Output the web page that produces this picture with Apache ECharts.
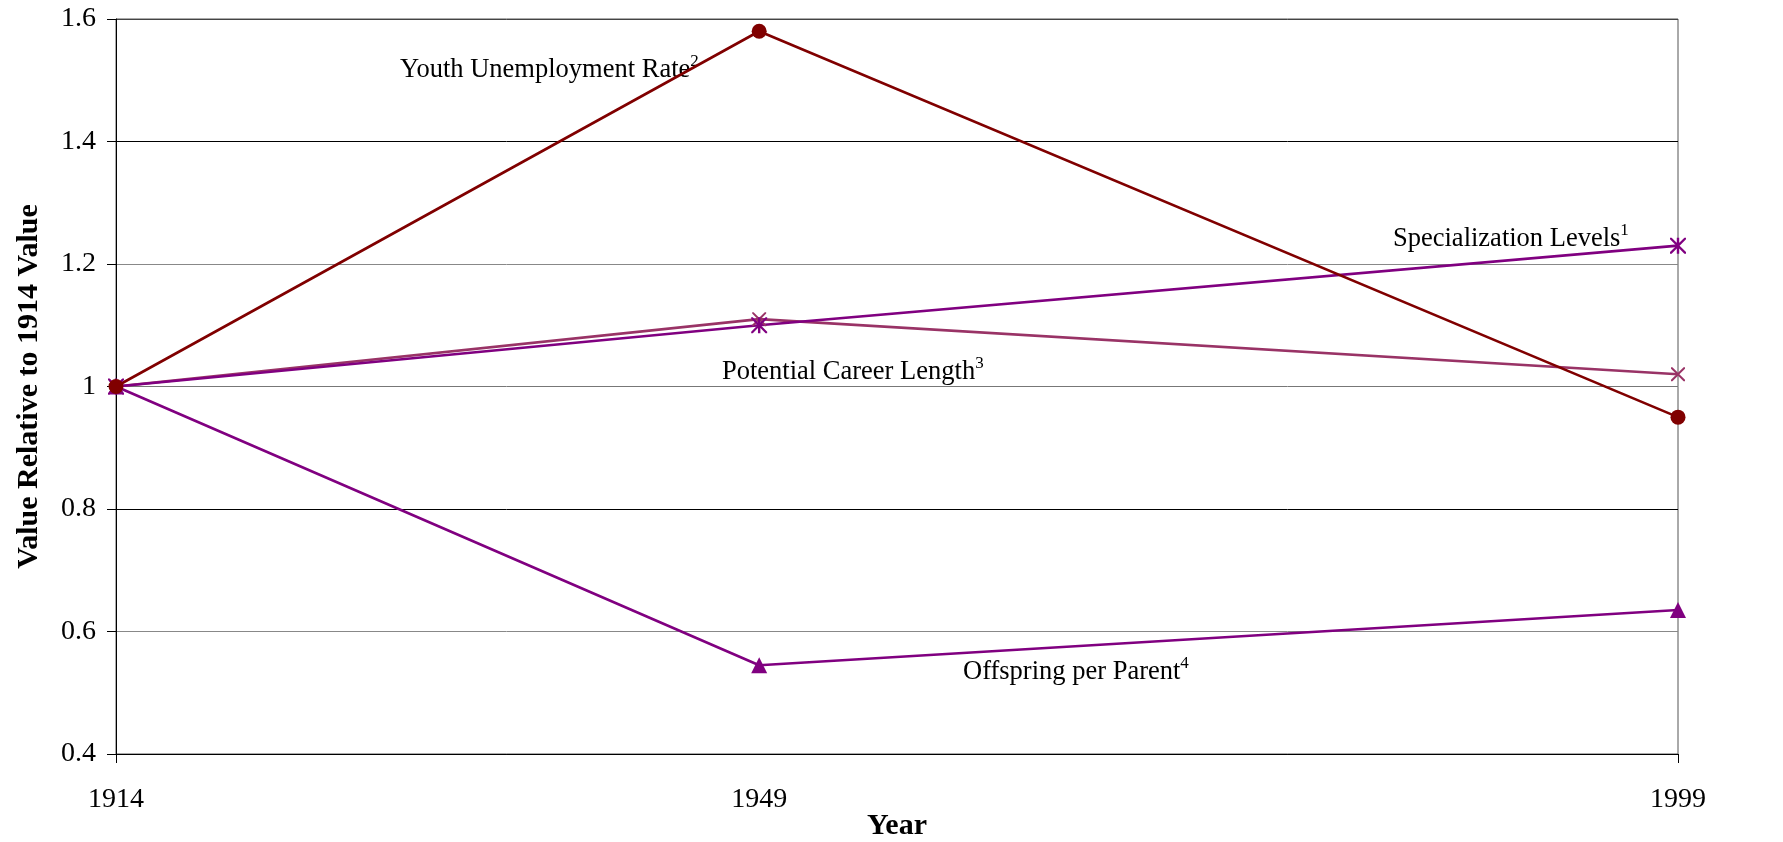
<!DOCTYPE html>
<html>
<head>
<meta charset="utf-8">
<script src="https://cdn.jsdelivr.net/npm/echarts@6/dist/echarts.min.js"></script>
<style>
  html, body { margin: 0; padding: 0; background: #fff; }
  #chart { width: 1783px; height: 842px; }
</style>
</head>
<body>
<div id="chart"></div>
<script>
// values relative to 1914
const years = [1914, 1949, 1999];
const youthUnemployment = [1.0, 1.58, 0.95];
const specializationLevels = [1.0, 1.10, 1.23];
const careerLength = [1.0, 1.11, 1.02];
const offspringPerParent = [1.0, 0.545, 0.635];

const FONT = "'Liberation Serif', 'Times New Roman', serif";

// thin-stroke marker shapes drawn as filled paths
const CROSS = 'path://M0,0 L2,0 L10,8 L18,0 L20,0 L20,2 L12,10 L20,18 L20,20 L18,20 L10,12 L2,20 L0,20 L0,18 L8,10 L0,2 Z';
const STAR = CROSS + ' M8.5,0 L11.5,0 L11.5,20 L8.5,20 Z';

function pairs(vals) {
  return years.map((y, i) => [y, vals[i]]);
}

function line(name, vals, color, symbol, size) {
  return {
    name: name,
    type: 'line',
    data: pairs(vals),
    symbol: symbol,
    symbolSize: size,
    lineStyle: { color: color, width: 2.6 },
    itemStyle: { color: color },
    emphasis: { disabled: true },
    z: 3
  };
}

function note(text, sup, x, y) {
  return {
    type: 'text',
    x: x,
    y: y,
    style: {
      text: '{a|' + text + '}{s|' + sup + '}',
      align: 'left',
      verticalAlign: 'middle',
      rich: {
        a: { fontFamily: FONT, fontSize: 26.5, lineHeight: 34, color: '#000' },
        s: { fontFamily: FONT, fontSize: 17, lineHeight: 17, color: '#000', verticalAlign: 'top' }
      }
    }
  };
}

const chart = echarts.init(document.getElementById('chart'));

chart.setOption({
  backgroundColor: '#fff',
  animation: false,
  grid: {
    left: 116, right: 105, top: 19, bottom: 88,
    outerBoundsMode: 'none',
    containLabel: false,
    show: true, borderColor: '#555', borderWidth: 1
  },
  xAxis: {
    type: 'value',
    min: years[0],
    max: years[years.length - 1],
    name: 'Year',
    nameLocation: 'middle',
    nameGap: 57,
    nameMoveOverlap: false,
    nameTextStyle: { fontFamily: FONT, fontSize: 30, fontWeight: 'bold', color: '#000' },
    axisLine: { lineStyle: { color: '#000', width: 1 } },
    axisTick: { show: true, length: 9, customValues: [years[0], years[years.length - 1]], lineStyle: { color: '#000' } },
    axisLabel: {
      customValues: years, margin: 32, fontFamily: FONT, fontSize: 28, color: '#000',
      formatter: v => String(v)
    },
    splitLine: { show: false }
  },
  yAxis: {
    type: 'value',
    min: 0.4,
    max: 1.6,
    interval: 0.2,
    name: 'Value Relative to 1914 Value',
    nameLocation: 'middle',
    nameRotate: 90,
    nameGap: 72,
    nameMoveOverlap: false,
    nameTextStyle: { fontFamily: FONT, fontSize: 30, fontWeight: 'bold', color: '#000' },
    axisLine: { show: true, lineStyle: { color: '#000', width: 1 } },
    axisTick: { show: true, length: 9, lineStyle: { color: '#000' } },
    axisLabel: {
      margin: 20, fontFamily: FONT, fontSize: 28, color: '#000',
      formatter: v => String(+v.toFixed(1))
    },
    splitLine: { show: true, lineStyle: { color: ['#000', '#888', '#000', '#777', '#888', '#000', '#444'], width: 1 } }
  },
  series: [
    line('Offspring per Parent', offspringPerParent, '#800080', 'triangle', 16),
    line('Potential Career Length', careerLength, '#993366', CROSS, 14),
    line('Specialization Levels', specializationLevels, '#800080', STAR, 16),
    line('Youth Unemployment Rate', youthUnemployment, '#800000', 'circle', 15)
  ],
  graphic: [
    note('Youth Unemployment Rate', '2', 400, 70),
    note('Specialization Levels', '1', 1393, 239),
    note('Potential Career Length', '3', 722, 372),
    note('Offspring per Parent', '4', 963, 672)
  ]
});
</script>
</body>
</html>
